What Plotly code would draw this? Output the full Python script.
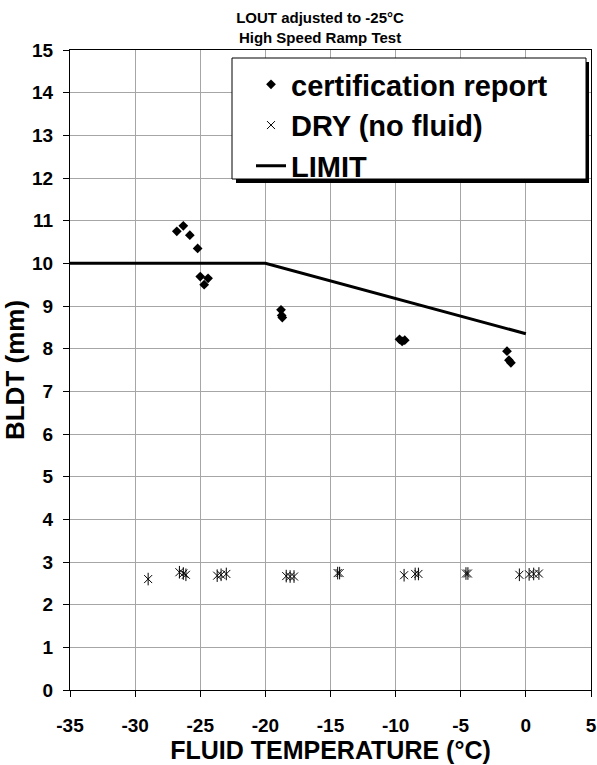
import plotly.graph_objects as go

# ---- data ----
cert_x = [-26.8, -26.3, -25.8, -25.2, -25.0, -24.4, -24.7, -18.8, -18.75, -18.7,
          -9.7, -9.3, -9.5, -1.45, -1.3, -1.15]
cert_y = [10.75, 10.88, 10.66, 10.35, 9.69, 9.65, 9.5, 8.91, 8.78, 8.73,
          8.22, 8.2, 8.17, 7.94, 7.73, 7.67]

dry_x = [-29.0, -26.6, -26.3, -26.1, -23.7, -23.4, -23.0, -18.4, -18.1, -17.8,
         -14.45, -14.3, -9.35, -8.5, -8.25, -4.6, -4.45, -0.5, 0.25, 0.6, 1.0]
dry_y = [2.6, 2.76, 2.73, 2.7, 2.68, 2.7, 2.72, 2.67, 2.66, 2.66,
         2.74, 2.74, 2.69, 2.72, 2.72, 2.73, 2.73, 2.7, 2.71, 2.72, 2.73]

limit_x = [-35, -20, 0]
limit_y = [10, 10, 8.35]

x_ticks = [-35, -30, -25, -20, -15, -10, -5, 0, 5]
x_ticklabels = ["-35", "-30", "-25", "-20", "-15", "-10", "-5", "0", "5"]
y_ticks = list(range(0, 16))
y_ticklabels = [str(v) for v in y_ticks]

FONT = "Liberation Sans, Arial, sans-serif"

fig = go.Figure()
fig.add_trace(go.Scatter(
    x=cert_x, y=cert_y, mode="markers", name="certification report",
    marker=dict(symbol="diamond", size=7.5, color="black"),
    legendgroup="a"))
fig.add_trace(go.Scatter(
    x=dry_x, y=dry_y, mode="markers", name="DRY (no fluid)",
    marker=dict(symbol="x-thin-open", size=8, color="black",
                line=dict(color="black", width=1)),
    legendgroup="b"))
fig.add_trace(go.Scatter(
    x=dry_x, y=dry_y, mode="markers", name="DRY (no fluid)", showlegend=False,
    marker=dict(symbol="line-ns-open", size=9, color="black",
                line=dict(color="black", width=1)),
    legendgroup="b", hoverinfo="skip"))
fig.add_trace(go.Scatter(
    x=limit_x, y=limit_y, mode="lines", name="LIMIT",
    line=dict(color="black", width=3),
    legendgroup="c"))

ML, MR, MT, MB = 70, 6, 50, 75
W, H = 597, 765
pw, ph = W - ML - MR, H - MT - MB

def px_x(p):
    return (p - ML) / pw

def px_y(p):
    return 1 - (p - MT) / ph

# legend frame with drop shadow
fig.add_shape(type="rect", xref="paper", yref="paper",
              x0=px_x(236), x1=px_x(589), y0=px_y(183), y1=px_y(62),
              fillcolor="black", line=dict(width=0), layer="above")
fig.add_shape(type="rect", xref="paper", yref="paper",
              x0=px_x(232), x1=px_x(586), y0=px_y(179), y1=px_y(58),
              fillcolor="white", line=dict(color="black", width=1),
              layer="above")

axis_common = dict(
    showline=True, linecolor="black", linewidth=1, mirror=True,
    showgrid=True, gridcolor="#a6a6a6", gridwidth=1,
    ticks="outside", ticklen=6, tickcolor="black", tickwidth=1,
    zeroline=False, automargin=False,
    tickfont=dict(family=FONT, size=19, color="black", weight="bold"),
)

fig.update_layout(
    width=W, height=H,
    margin=dict(l=ML, r=MR, t=MT, b=MB, autoexpand=False),
    paper_bgcolor="white", plot_bgcolor="white",
    showlegend=True,
    title=dict(text="LOUT adjusted to -25°C<br>High Speed Ramp Test",
               font=dict(family=FONT, size=15, color="black", weight="bold"),
               x=320 / W, xanchor="center", xref="container",
               y=1 - 23 / H, yanchor="top", yref="container"),
    legend=dict(x=px_x(251), y=px_y(59), xanchor="left", yanchor="top",
                bgcolor="rgba(0,0,0,0)", borderwidth=0,
                font=dict(family=FONT, size=29, color="black", weight="bold"),
                itemwidth=30, tracegroupgap=0, traceorder="grouped"),
    xaxis=dict(range=[-35, 5], tickmode="array", tickvals=x_ticks,
               ticktext=x_ticklabels, ticklabelstandoff=12,
               title=dict(text="FLUID TEMPERATURE (°C)", standoff=6,
                          font=dict(family=FONT, size=25, color="black",
                                    weight="bold")),
               **axis_common),
    yaxis=dict(range=[0, 15], tickmode="array", tickvals=y_ticks,
               ticktext=y_ticklabels, ticklabelstandoff=6,
               title=dict(text="BLDT (mm)", standoff=0,
                          font=dict(family=FONT, size=26, color="black",
                                    weight="bold")),
               **axis_common),
)

fig.write_html("out.html")
